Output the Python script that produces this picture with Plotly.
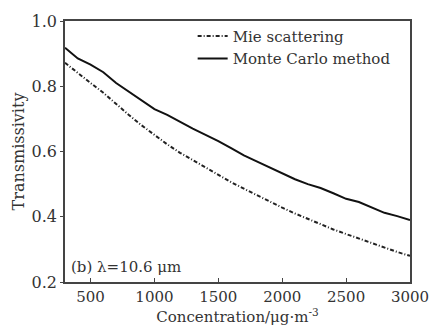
import plotly.graph_objects as go

conc = [300, 400, 500, 600, 700, 800, 900, 1000, 1100, 1200, 1300, 1400, 1500, 1600,
        1700, 1800, 1900, 2000, 2100, 2200, 2300, 2400, 2500, 2600, 2700, 2800, 2900, 3000]
mie = [0.872, 0.840, 0.810, 0.780, 0.745, 0.712, 0.680, 0.650, 0.622, 0.596, 0.573, 0.550,
       0.527, 0.506, 0.486, 0.466, 0.447, 0.428, 0.410, 0.393, 0.377, 0.361, 0.347, 0.333,
       0.320, 0.306, 0.292, 0.280]
monte_carlo = [0.918, 0.885, 0.866, 0.843, 0.810, 0.784, 0.757, 0.730, 0.712, 0.690, 0.670,
               0.651, 0.632, 0.610, 0.588, 0.570, 0.552, 0.535, 0.515, 0.500, 0.488, 0.472,
               0.455, 0.445, 0.428, 0.412, 0.402, 0.390]
x_ticks = [500, 1000, 1500, 2000, 2500, 3000]
y_ticks = [0.2, 0.4, 0.6, 0.8, 1.0]

FONT = "DejaVu Serif"
TXT = "#333333"

fig = go.Figure()
fig.add_trace(go.Scatter(x=conc, y=mie, mode="lines", name="Mie scattering",
                         line=dict(color="#222222", width=2, dash="4px,2px,1px,2px")))
fig.add_trace(go.Scatter(x=conc, y=monte_carlo, mode="lines", name="Monte Carlo method",
                         line=dict(color="#111111", width=2)))

fig.update_layout(
    width=441, height=331,
    margin=dict(l=65, r=22, t=18, b=46),
    paper_bgcolor="white", plot_bgcolor="white",
    font=dict(family=FONT, size=15, color=TXT),
    legend=dict(x=0.37, y=1.005, xanchor="left", yanchor="top",
                bgcolor="rgba(0,0,0,0)", itemwidth=30, tracegroupgap=0,
                font=dict(family=FONT, size=15, color=TXT)),
    showlegend=True,
    annotations=[dict(text="(b) λ=10.6 μm", x=0.012, y=0.015, xref="paper", yref="paper",
                      xanchor="left", yanchor="bottom", showarrow=False,
                      font=dict(family=FONT, size=15, color=TXT))],
)
fig.update_xaxes(range=[300, 3000], tickvals=x_ticks, ticks="inside", ticklen=4,
                 showline=True, linecolor="#444444", linewidth=1.5, mirror=True,
                 showgrid=False, zeroline=False,
                 tickfont=dict(family=FONT, size=15, color=TXT),
                 title=dict(text="Concentration/μg·m<sup>-3</sup>", standoff=3,
                            font=dict(family=FONT, size=15, color=TXT)))
fig.update_yaxes(range=[0.2, 1.0], tickvals=y_ticks, tickformat=".1f", ticks="outside", ticklen=3,
                 showline=True, linecolor="#444444", linewidth=1.5, mirror=True,
                 showgrid=False, zeroline=False,
                 tickfont=dict(family=FONT, size=16, color=TXT),
                 title=dict(text="Transmissivity", standoff=3,
                            font=dict(family=FONT, size=16, color=TXT)))

fig.write_html("out.html")
